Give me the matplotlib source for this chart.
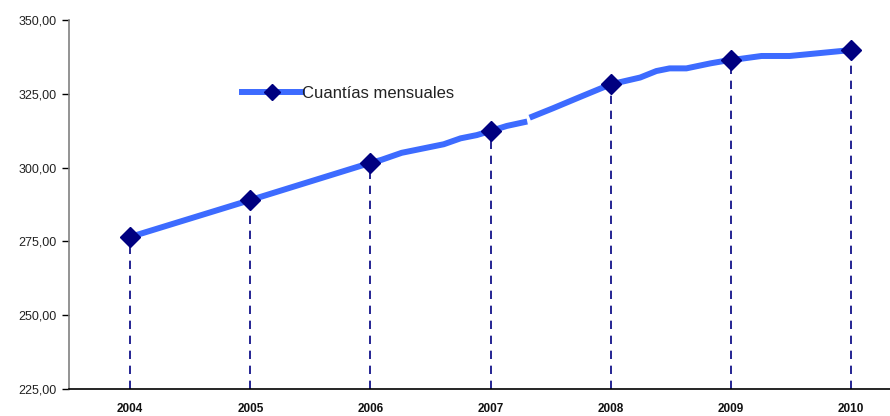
import matplotlib
matplotlib.use("Agg")
import matplotlib.pyplot as plt
from matplotlib.ticker import FixedLocator, FuncFormatter

# Monthly amounts (fractional year, value), two contiguous pieces
x_part1 = [2004.0, 2005.0, 2006.0, 2006.09, 2006.26, 2006.61, 2006.75, 2006.885,
           2007.0, 2007.135, 2007.305]
y_part1 = [276.5, 289.0, 301.6, 302.6, 305.0, 307.9, 309.9, 311.0,
           312.4, 314.1, 315.6]
x_part2 = [2007.325, 2007.52, 2007.72, 2008.0, 2008.245, 2008.38, 2008.49, 2008.63,
           2008.83, 2009.0, 2009.075, 2009.255, 2009.49, 2010.0]
y_part2 = [316.9, 320.1, 323.5, 328.2, 330.5, 332.7, 333.6, 333.6,
           335.3, 336.5, 336.8, 337.8, 337.8, 339.8]

# Yearly markers
years = [2004, 2005, 2006, 2007, 2008, 2009, 2010]
year_values = [276.5, 289.0, 301.6, 312.4, 328.2, 336.5, 339.8]
yticks = [225, 250, 275, 300, 325, 350]

line_color = "#3D6BFF"
marker_color = "#000080"

fig = plt.figure(figsize=(8.9, 4.16), dpi=100)
ax = fig.add_axes([0.0775, 0.065, 0.9225, 0.887])

# Drop lines
ax.vlines(years, 225, year_values, colors=marker_color, linestyles=(0, (5, 4)),
          linewidth=1.2, zorder=1)

ax.plot(x_part1, y_part1, color=line_color, linewidth=4.3, solid_capstyle="butt",
        solid_joinstyle="round", zorder=2)
ax.plot(x_part2, y_part2, color=line_color, linewidth=4.3, solid_capstyle="butt",
        solid_joinstyle="round", zorder=2)
ax.plot(years, year_values, linestyle="none", marker="D", markersize=10.5,
        color=marker_color, zorder=3)

# Legend proxy
legend_handle, = ax.plot([], [], color=line_color, linewidth=4.3, marker="D",
                         markersize=8, markerfacecolor=marker_color,
                         markeredgecolor=marker_color)
leg = ax.legend([legend_handle], ["Cuantías mensuales"], loc="center left",
                bbox_to_anchor=(0.203, 0.80), frameon=False, handlelength=3.6,
                handletextpad=0.0, borderaxespad=0,
                prop={"family": "Liberation Sans", "size": 12})
for t in leg.get_texts():
    t.set_color("#222222")

ax.set_xlim(2003.49, 2010.325)
ax.set_ylim(225, 350)
ax.yaxis.set_major_locator(FixedLocator(yticks))
ax.yaxis.set_major_formatter(FuncFormatter(lambda v, p: f"{v:.2f}".replace(".", ",")))
ax.set_xticks(years)
ax.set_xticklabels([str(y) for y in years])

for s in ["top", "right"]:
    ax.spines[s].set_visible(False)
ax.spines["left"].set_color("#808080")
ax.spines["left"].set_linewidth(1.2)
ax.spines["bottom"].set_color("black")
ax.spines["bottom"].set_linewidth(1.2)

ax.tick_params(axis="y", direction="out", length=5, width=1, color="black",
               labelsize=9, pad=4, labelcolor="#222222")
ax.tick_params(axis="x", length=0, pad=10, labelsize=8.5, labelcolor="#111111")
for lab in ax.get_yticklabels():
    lab.set_fontfamily("Liberation Sans")
for lab in ax.get_xticklabels():
    lab.set_fontfamily("Liberation Sans")
    lab.set_fontweight("bold")

fig.savefig("out.png", dpi=100)
